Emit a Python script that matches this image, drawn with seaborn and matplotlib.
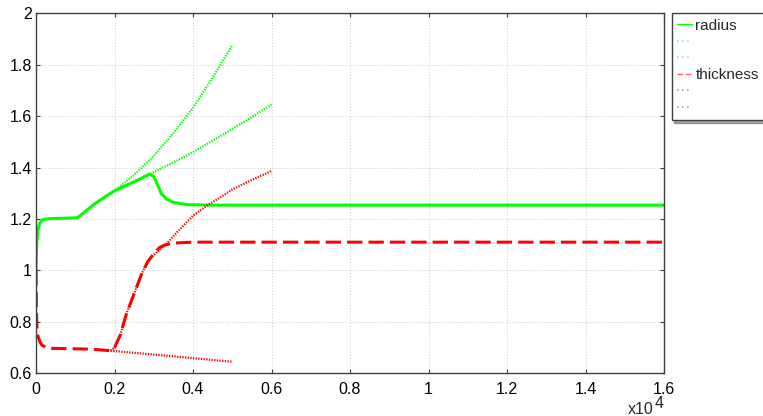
import numpy as np
import pandas as pd
import seaborn as sns
import matplotlib.pyplot as plt
from matplotlib.lines import Line2D
from matplotlib.ticker import FuncFormatter, MultipleLocator

# values (time in raw units, shown as x10^4)
radius_t = [0, 20, 50, 100, 150, 250, 400, 700, 1060, 1500, 2000, 2500, 2900,
            3000, 3070, 3200, 3330, 3500, 3840, 4500, 6000, 10000, 16000]
radius = [1.0, 1.11, 1.16, 1.185, 1.195, 1.2, 1.202, 1.203, 1.205, 1.26, 1.31, 1.345, 1.375,
          1.365, 1.342, 1.297, 1.278, 1.265, 1.256, 1.254, 1.254, 1.254, 1.254]

radius_a_t = [1060, 1500, 2000, 2500, 3000, 3500, 4000, 4500, 5000]
radius_a = [1.205, 1.26, 1.31, 1.372, 1.445, 1.535, 1.633, 1.75, 1.875]

radius_b_t = [1060, 1500, 2000, 2500, 2900, 3500, 4000, 4500, 5000, 5500, 6000]
radius_b = [1.205, 1.26, 1.31, 1.345, 1.375, 1.42, 1.46, 1.505, 1.55, 1.597, 1.645]

thick_t = [0, 10, 25, 50, 100, 150, 250, 400, 800, 1400, 1900, 2000, 2150, 2300, 2500,
           2700, 2850, 3000, 3150, 3300, 3500, 3700, 4000, 6000, 16000]
thick = [1.0, 0.85, 0.775, 0.745, 0.722, 0.71, 0.701, 0.697, 0.696, 0.694, 0.688, 0.70, 0.75,
         0.83, 0.91, 0.99, 1.035, 1.065, 1.09, 1.10, 1.106, 1.108, 1.11, 1.11, 1.11]

thick_a_t = [1900, 3000, 4000, 5000]
thick_a = [0.688, 0.673, 0.659, 0.645]

thick_b_t = [1900, 2000, 2150, 2300, 2500, 2700, 2850, 3000, 3300, 3600, 4000, 4350,
             4700, 5000, 5500, 6000]
thick_b = [0.688, 0.70, 0.75, 0.83, 0.91, 0.99, 1.035, 1.06, 1.10, 1.15, 1.213, 1.252,
           1.285, 1.315, 1.352, 1.387]

legend_labels = ['radius', ' ', ' ', 'thickness', ' ', ' ']

sns.set_style('white')
plt.rcParams['font.family'] = ['Liberation Sans', 'DejaVu Sans']
fs = 11.5

fig = plt.figure(figsize=(7.63, 4.16), dpi=100)
ax = fig.add_axes([0.0472, 0.1026, 0.8231, 0.8654])

green = '#00ff00'
red = '#ff0000'
dot = (0, (0.6, 0.6))

sns.lineplot(x=radius_t, y=radius, ax=ax, color=green, linewidth=2.2, estimator=None, sort=False)
sns.lineplot(x=radius_a_t, y=radius_a, ax=ax, color=green, linewidth=1.6, linestyle=dot,
             estimator=None, sort=False)
sns.lineplot(x=radius_b_t, y=radius_b, ax=ax, color=green, linewidth=1.6, linestyle=dot,
             estimator=None, sort=False)
sns.lineplot(x=thick_t, y=thick, ax=ax, color=red, linewidth=2.2, linestyle=(0, (5, 2)),
             estimator=None, sort=False)
sns.lineplot(x=thick_a_t, y=thick_a, ax=ax, color=red, linewidth=1.6, linestyle=dot,
             estimator=None, sort=False)
sns.lineplot(x=thick_b_t, y=thick_b, ax=ax, color=red, linewidth=1.6, linestyle=dot,
             estimator=None, sort=False)

ax.set_xlim(0, 16000)
ax.set_ylim(0.6, 2.0)
ax.xaxis.set_major_locator(MultipleLocator(2000))
ax.yaxis.set_major_locator(MultipleLocator(0.2))
ax.xaxis.set_major_formatter(FuncFormatter(lambda v, p: '%g' % (v / 1e4)))
ax.yaxis.set_major_formatter(FuncFormatter(lambda v, p: '%g' % round(v, 2)))
ax.tick_params(direction='in', length=3, width=0.8, color='#404040', labelsize=fs,
               top=True, right=True, bottom=True, left=True, labelcolor='black')
ax.tick_params(axis='x', pad=6)
ax.tick_params(axis='y', pad=3)
ax.grid(True, color='#c8c8c8', linestyle=(0, (1, 2)), linewidth=0.7)
for s in ax.spines.values():
    s.set_color('#404040')
    s.set_linewidth(1.0)
ax.set_xlabel('')
ax.set_ylabel('')

fig.text(654 / 763, 0.006, 'x10', fontsize=fs, ha='right', va='baseline')
fig.text(655 / 763, 0.019, '4', fontsize=fs, ha='left', va='baseline')

# legend handles: thin and pale, like the reference
leg_dot = (0, (1, 2))
styles = [('-', green, 1.0), (leg_dot, '#80ff80', 1.2), (leg_dot, '#80ff80', 1.2),
          ((0, (4, 2)), '#ff6060', 1.0), (leg_dot, '#ff8080', 1.2), (leg_dot, '#ff8080', 1.2)]
handles = [Line2D([], [], color=c, linestyle=ls, linewidth=w) for ls, c, w in styles]
leg = fig.legend(handles, legend_labels, loc='upper left', bbox_to_anchor=(0.8803, 0.968),
                 fontsize=11, frameon=True, fancybox=False, shadow=True, borderaxespad=0,
                 borderpad=0.35, handlelength=0.95, handletextpad=0.25, labelspacing=0.16)
leg.get_frame().set_edgecolor('#404040')
leg.get_frame().set_linewidth(1.0)

fig.savefig('out.png', dpi=100)
